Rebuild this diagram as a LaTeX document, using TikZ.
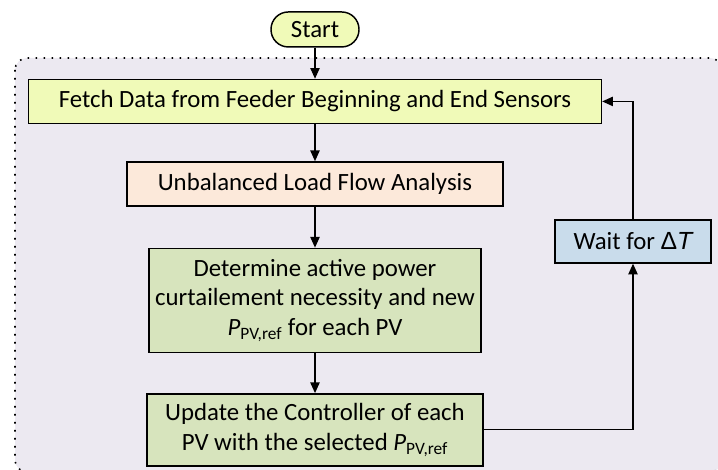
\documentclass[tikz,border=0pt]{standalone}
\usepackage{fontspec}
\setmainfont{Carlito}
\newfontfamily\deltafont{Liberation Sans}
\usetikzlibrary{arrows.meta,positioning}
\definecolor{bgpanel}{HTML}{ECE9F1}
\definecolor{fetchfill}{HTML}{F0FAB8}
\definecolor{loadfill}{HTML}{FCE9DA}
\definecolor{actfill}{HTML}{D7E4BD}
\definecolor{waitfill}{HTML}{C9DCEB}
\newcommand{\Pref}{\textit{P}\textsubscript{PV,ref}}

\begin{document}
\begin{tikzpicture}[
  font=\fontsize{18.6}{22.3}\selectfont,
  box/.style={draw=black, line width=1.1pt, inner sep=0pt, align=center, minimum height=33pt},
  terminal/.style={box, rounded corners=13pt, fill=fetchfill, minimum width=66pt, minimum height=26.25pt},
  flow/.style={-{Triangle[length=8pt,width=7pt]}, line width=0.9pt}
]
\useasboundingbox (0,0) rectangle (538.5pt,-352.5pt);

% dotted panel around the control loop
\draw[fill=bgpanel, line width=1.2pt, dash pattern=on 1.2pt off 4.8pt, rounded corners=9pt]
  (11.25pt,-43.5pt) rectangle (541.5pt,-354pt);

\node[terminal] (start) at (236.25pt,-22.1pt) {Start};
\node[box, fill=fetchfill, minimum width=429.75pt, below=23.25pt of start] (fetch) {Fetch Data from Feeder Beginning and End Sensors};
\node[box, fill=loadfill, minimum width=282pt, below=27.75pt of fetch] (loadflow) {Unbalanced Load Flow Analysis};
\node[box, fill=actfill, minimum width=249pt, minimum height=78pt, below=30.75pt of loadflow] (curtail) {Determine active power\\curtailement necessity and new\\\Pref{} for each PV};
\node[box, fill=actfill, minimum width=252pt, minimum height=54pt, below=30pt of curtail] (update) {Update the Controller of each\\PV with the selected \Pref};
\node[box, fill=waitfill, minimum width=117pt, minimum height=32.25pt] (wait) at (474.75pt,-181.1pt) {Wait for {\deltafont Δ\itshape T}};

% main sequence
\draw[flow] (start) -- (fetch);
\draw[flow] (fetch) -- (loadflow);
\draw[flow] (loadflow) -- (curtail);
\draw[flow] (curtail) -- (update);

% loop back after waiting
\draw[flow] (update.east) -| (wait.south);
\draw[flow] (wait.north) |- (fetch.east);
\end{tikzpicture}
\end{document}
